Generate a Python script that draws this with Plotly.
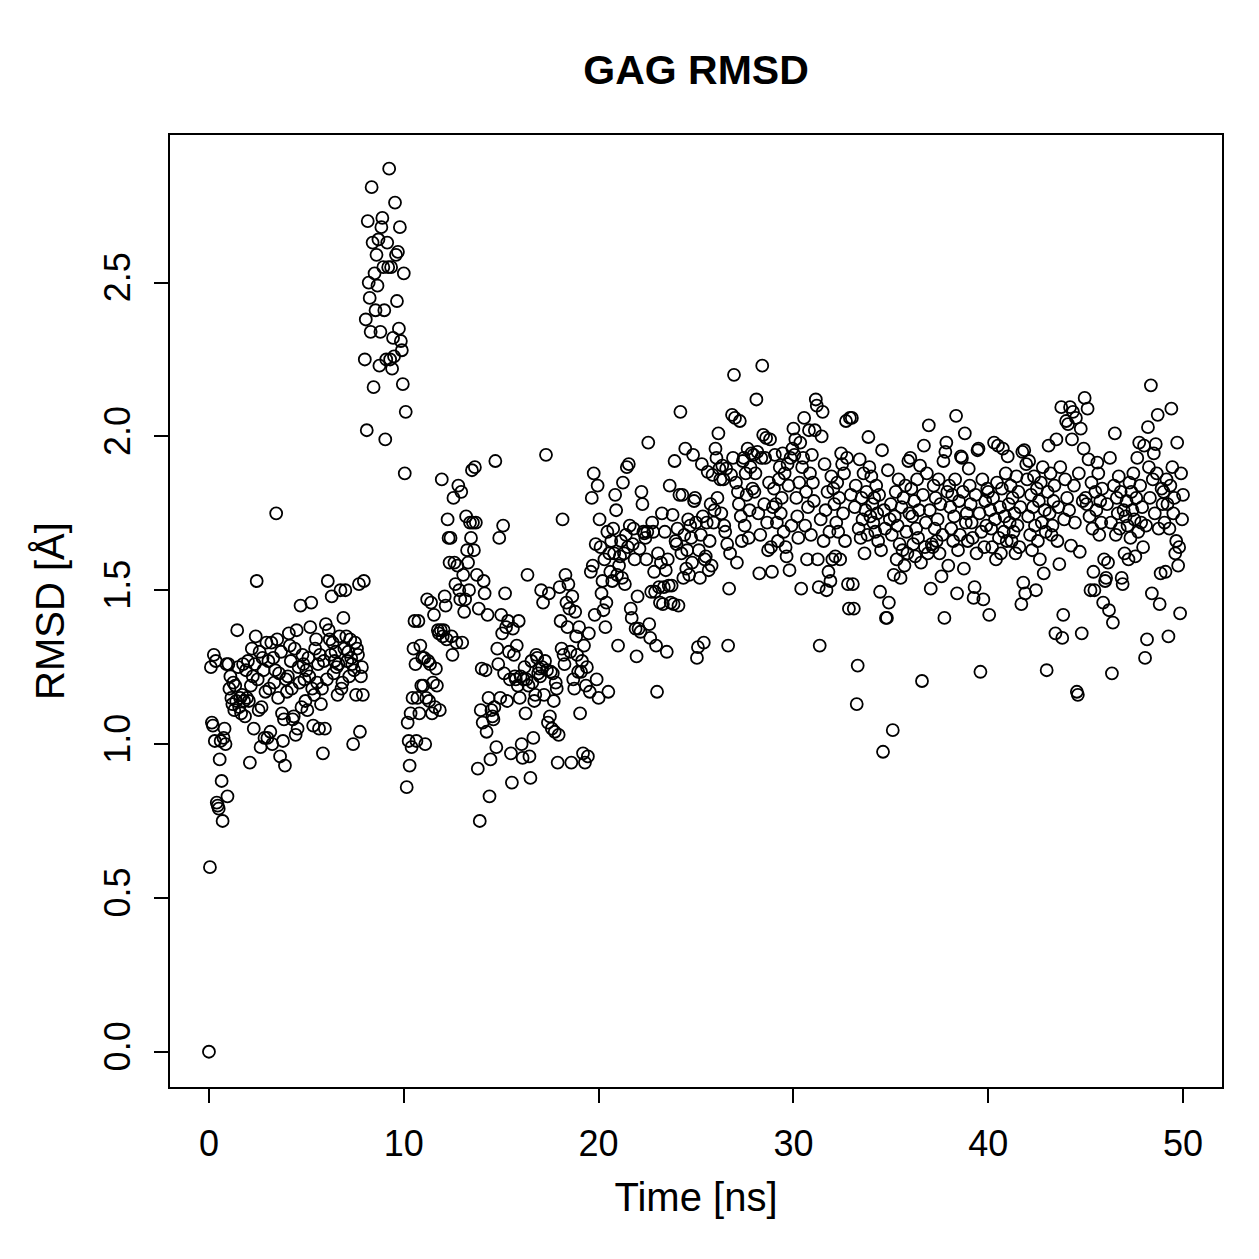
import plotly.graph_objects as go

# RMSD values (Å) read per 1-ns window, sampled every 0.05 ns
rmsd_00 = [0.00, 0.60, 1.25, 1.07, 1.06, 1.29, 1.01, 1.27, 0.81, 0.80, 0.79, 0.95, 1.01, 0.88, 0.75, 1.02, 1.05, 1.00, 1.26, 0.83]
rmsd_01 = [1.26, 1.18, 1.22, 1.15, 1.13, 1.20, 1.11, 1.19, 1.14, 1.37, 1.25, 1.12, 1.15, 1.10, 1.16, 1.26, 1.14, 1.09, 1.24, 1.15]
rmsd_02 = [1.27, 1.14, 0.94, 1.19, 1.31, 1.22, 1.05, 1.26, 1.35, 1.53, 1.21, 1.11, 1.30, 0.99, 1.12, 1.28, 1.24, 1.02, 1.17, 1.33]
rmsd_03 = [1.02, 1.27, 1.18, 1.04, 1.33, 1.00, 1.28, 1.20, 1.24, 1.75, 1.34, 1.15, 1.23, 0.96, 1.30, 1.10, 1.01, 1.08, 0.93, 1.21]
rmsd_04 = [1.17, 1.22, 1.36, 1.32, 1.27, 1.18, 1.08, 1.09, 1.31, 1.03, 1.37, 1.05, 1.25, 1.20, 1.45, 1.12, 1.29, 1.26, 1.21, 1.14]
rmsd_05 = [1.24, 1.11, 1.28, 1.22, 1.38, 1.46, 1.18, 1.06, 1.16, 1.31, 1.34, 1.20, 1.26, 1.05, 1.29, 1.13, 1.18, 0.97, 1.27, 1.05]
rmsd_06 = [1.39, 1.21, 1.53, 1.37, 1.34, 1.29, 1.48, 1.33, 1.23, 1.27, 1.30, 1.25, 1.16, 1.26, 1.35, 1.50, 1.18, 1.20, 1.41, 1.31]
rmsd_07 = [1.50, 1.35, 1.27, 1.30, 1.22, 1.34, 1.28, 1.26, 1.00, 1.24, 1.33, 1.16, 1.31, 1.29, 1.52, 1.04, 1.22, 1.25, 1.16, 1.53]
rmsd_08 = [2.25, 2.38, 2.02, 2.70, 2.50, 2.45, 2.34, 2.81, 2.63, 2.16, 2.53, 2.41, 2.59, 2.49, 2.64, 2.23, 2.34, 2.68, 2.71, 2.55]
rmsd_09 = [2.41, 1.99, 2.25, 2.63, 2.55, 2.87, 2.25, 2.55, 2.22, 2.32, 2.26, 2.76, 2.59, 2.44, 2.60, 2.35, 2.68, 2.31, 2.28, 2.17]
rmsd_10 = [2.53, 1.88, 2.08, 0.86, 1.07, 1.01, 0.93, 1.10, 0.99, 1.15, 1.31, 1.40, 1.26, 1.01, 1.15, 1.40, 1.10, 1.32, 1.19, 1.28]
rmsd_11 = [1.19, 1.28, 1.00, 1.15, 1.47, 1.27, 1.14, 1.26, 1.46, 1.10, 1.20, 1.42, 1.12, 1.245, 1.19, 1.37, 1.36, 1.11, 1.37, 1.86]
rmsd_12 = [1.35, 1.37, 1.48, 1.45, 1.34, 1.73, 1.67, 1.59, 1.67, 1.35, 1.29, 1.80, 1.59, 1.52, 1.33, 1.58, 1.84, 1.50, 1.47, 1.82]
rmsd_13 = [1.33, 1.55, 1.43, 1.47, 1.74, 1.63, 1.59, 1.50, 1.72, 1.67, 1.89, 1.72, 1.63, 1.90, 1.72, 1.55, 0.92, 1.44, 0.75, 1.11]
rmsd_14 = [1.245, 1.07, 1.53, 1.49, 1.24, 1.04, 1.42, 1.15, 0.83, 0.95, 1.11, 1.09, 1.08, 1.12, 1.92, 0.99, 1.31, 1.26, 1.67, 1.15]
rmsd_15 = [1.42, 1.36, 1.71, 1.23, 1.49, 1.38, 1.14, 1.40, 1.30, 1.21, 0.97, 0.875, 1.375, 1.29, 1.22, 1.21, 1.32, 1.19, 1.40, 1.15]
rmsd_16 = [1.22, 1.00, 0.955, 1.21, 1.25, 1.10, 1.21, 1.55, 1.19, 0.96, 0.89, 1.27, 1.20, 1.02, 1.14, 1.16, 1.29, 1.28, 1.23, 1.245]
rmsd_17 = [1.22, 1.50, 1.25, 1.46, 1.16, 1.27, 1.94, 1.24, 1.07, 1.49, 1.09, 1.235, 1.05, 1.23, 1.14, 1.04, 1.20, 1.18, 0.94, 1.03]
rmsd_18 = [1.51, 1.40, 1.31, 1.73, 1.29, 1.26, 1.55, 1.46, 1.38, 1.52, 1.44, 1.30, 0.94, 1.48, 1.21, 1.18, 1.43, 1.35, 1.29, 1.235]
rmsd_19 = [1.38, 1.10, 1.235, 1.27, 0.97, 1.32, 0.94, 1.19, 1.25, 0.96, 1.36, 1.17, 1.56, 1.80, 1.58, 1.88, 1.42, 1.65, 1.21, 1.84]
rmsd_20 = [1.15, 1.73, 1.64, 1.49, 1.53, 1.435, 1.60, 1.38, 1.46, 1.69, 1.17, 1.62, 1.56, 1.66, 1.53, 1.70, 1.62, 1.81, 1.76, 1.55]
rmsd_21 = [1.32, 1.58, 1.61, 1.66, 1.54, 1.85, 1.62, 1.52, 1.68, 1.90, 1.64, 1.91, 1.71, 1.44, 1.41, 1.65, 1.70, 1.60, 1.375, 1.285]
rmsd_22 = [1.48, 1.375, 1.635, 1.365, 1.82, 1.78, 1.69, 1.685, 1.67, 1.60, 1.69, 1.98, 1.39, 1.345, 1.495, 1.72, 1.69, 1.56, 1.495, 1.32]
rmsd_23 = [1.17, 1.62, 1.51, 1.46, 1.59, 1.75, 1.455, 1.51, 1.69, 1.565, 1.30, 1.60, 1.515, 1.84, 1.46, 1.515, 1.745, 1.455, 1.92, 1.66]
rmsd_24 = [1.65, 1.70, 1.45, 1.81, 2.08, 1.62, 1.81, 1.54, 1.68, 1.96, 1.57, 1.63, 1.73, 1.55, 1.71, 1.67, 1.59, 1.94, 1.79, 1.80]
rmsd_25 = [1.72, 1.28, 1.315, 1.63, 1.54, 1.68, 1.91, 1.74, 1.33, 1.60, 1.61, 1.72, 1.885, 1.565, 1.66, 1.78, 1.58, 1.875, 1.72, 1.76]
rmsd_26 = [1.96, 1.93, 1.80, 2.01, 1.895, 1.86, 1.75, 1.905, 1.86, 1.71, 1.69, 1.895, 1.65, 1.32, 1.505, 1.62, 1.875, 2.07, 1.93, 2.20]
rmsd_27 = [2.06, 1.85, 1.59, 1.82, 1.78, 2.05, 1.74, 1.66, 1.92, 1.93, 1.71, 1.88, 1.81, 1.96, 1.67, 1.76, 1.90, 1.945, 1.83, 1.94]
rmsd_28 = [1.82, 1.88, 2.12, 1.95, 1.75, 1.555, 1.68, 1.93, 2.23, 2.005, 1.78, 1.93, 1.995, 1.72, 1.63, 1.85, 1.99, 1.64, 1.56, 1.77]
rmsd_29 = [1.83, 1.94, 1.78, 1.72, 1.66, 1.86, 1.90, 1.75, 1.80, 1.945, 1.69, 1.88, 1.64, 1.61, 1.91, 1.84, 1.565, 1.93, 1.71, 1.96]
rmsd_30 = [2.025, 1.94, 1.99, 1.80, 1.74, 1.67, 1.85, 1.98, 1.505, 1.90, 1.93, 2.06, 1.71, 1.82, 1.60, 1.77, 2.02, 1.88, 1.68, 1.94]
rmsd_31 = [1.85, 1.79, 2.02, 2.12, 2.10, 1.60, 1.51, 1.32, 1.73, 2.00, 2.08, 1.66, 1.91, 1.76, 1.50, 1.82, 1.56, 1.69, 1.53, 1.87]
rmsd_32 = [1.60, 1.83, 1.78, 1.61, 1.72, 1.85, 1.69, 1.80, 1.60, 1.945, 1.91, 1.75, 1.88, 1.66, 2.05, 1.93, 1.52, 1.44, 2.06, 1.81]
rmsd_33 = [2.06, 1.52, 1.44, 1.77, 1.84, 1.13, 1.255, 1.70, 1.925, 1.67, 1.80, 1.73, 1.88, 1.62, 1.76, 1.82, 1.68, 1.998, 1.90, 1.74]
rmsd_34 = [1.87, 1.78, 1.72, 1.80, 1.69, 1.84, 1.75, 1.66, 1.81, 1.495, 1.63, 1.955, 0.975, 1.76, 1.70, 1.41, 1.41, 1.89, 1.46, 1.73]
rmsd_35 = [1.78, 1.68, 1.045, 1.55, 1.74, 1.82, 1.60, 1.71, 1.86, 1.65, 1.54, 1.77, 1.63, 1.80, 1.58, 1.84, 1.69, 1.62, 1.92, 1.75]
rmsd_36 = [1.93, 1.83, 1.74, 1.65, 1.79, 1.61, 1.70, 1.86, 1.67, 1.76, 1.905, 1.59, 1.205, 1.81, 1.97, 1.64, 1.72, 1.88, 1.62, 2.036]
rmsd_37 = [1.76, 1.505, 1.65, 1.64, 1.84, 1.70, 1.80, 1.66, 1.73, 1.86, 1.62, 1.78, 1.545, 1.68, 1.92, 1.41, 1.95, 1.98, 1.82, 1.58]
rmsd_38 = [1.84, 1.77, 1.70, 1.81, 1.66, 1.74, 1.86, 2.067, 1.49, 1.63, 1.79, 1.68, 1.935, 1.93, 1.82, 1.57, 2.01, 1.72, 1.75, 1.66]
rmsd_39 = [1.895, 1.84, 1.78, 1.72, 1.67, 1.475, 1.51, 1.81, 1.62, 1.955, 1.96, 1.75, 1.235, 1.69, 1.86, 1.47, 1.64, 1.79, 1.71, 1.83]
rmsd_40 = [1.82, 1.42, 1.76, 1.70, 1.64, 1.80, 1.98, 1.73, 1.60, 1.85, 1.97, 1.67, 1.77, 1.62, 1.83, 1.96, 1.69, 1.74, 1.88, 1.66]
rmsd_41 = [1.935, 1.78, 1.72, 1.84, 1.66, 1.80, 1.69, 1.75, 1.62, 1.87, 1.71, 1.82, 1.64, 1.77, 1.455, 1.95, 1.525, 1.955, 1.49, 1.91]
rmsd_42 = [1.86, 1.74, 1.92, 1.68, 1.81, 1.63, 1.77, 1.87, 1.71, 1.50, 1.83, 1.66, 1.79, 1.60, 1.85, 1.72, 1.90, 1.555, 1.76, 1.69]
rmsd_43 = [1.24, 1.82, 1.97, 1.75, 1.88, 1.68, 1.71, 1.79, 1.84, 1.36, 1.99, 1.66, 1.77, 1.585, 1.90, 2.095, 1.345, 1.42, 1.73, 1.86]
rmsd_44 = [2.05, 1.80, 2.04, 1.76, 2.095, 1.645, 1.99, 2.08, 1.84, 1.72, 2.06, 1.17, 1.16, 1.88, 1.625, 2.025, 1.36, 1.79, 1.96, 2.125]
rmsd_45 = [1.80, 1.78, 2.09, 1.925, 1.74, 1.50, 1.85, 1.70, 1.56, 1.50, 1.82, 1.76, 1.915, 1.88, 1.68, 1.79, 1.72, 1.83, 1.46, 1.60]
rmsd_46 = [1.53, 1.54, 1.78, 1.59, 1.435, 1.93, 1.72, 1.23, 1.395, 1.84, 2.01, 1.68, 1.80, 1.75, 1.87, 1.70, 1.82, 1.54, 1.52, 1.76]
rmsd_47 = [1.62, 1.74, 1.79, 1.71, 1.60, 1.85, 1.67, 1.82, 1.76, 1.88, 1.73, 1.61, 1.80, 1.93, 1.69, 1.98, 1.84, 1.72, 1.77, 1.64]
rmsd_48 = [1.97, 1.28, 1.71, 1.34, 2.03, 1.90, 1.80, 2.166, 1.49, 1.86, 1.945, 1.75, 1.975, 1.88, 2.07, 1.70, 1.455, 1.555, 1.83, 1.78]
rmsd_49 = [1.82, 1.72, 1.56, 1.86, 1.78, 1.35, 1.70, 1.84, 2.09, 1.90, 1.75, 1.80, 1.62, 1.66, 1.98, 1.58, 1.64, 1.425, 1.88, 1.73]
rmsd_50 = [1.81]

segments = [rmsd_00, rmsd_01, rmsd_02, rmsd_03, rmsd_04, rmsd_05, rmsd_06, rmsd_07, rmsd_08, rmsd_09,
            rmsd_10, rmsd_11, rmsd_12, rmsd_13, rmsd_14, rmsd_15, rmsd_16, rmsd_17, rmsd_18, rmsd_19,
            rmsd_20, rmsd_21, rmsd_22, rmsd_23, rmsd_24, rmsd_25, rmsd_26, rmsd_27, rmsd_28, rmsd_29,
            rmsd_30, rmsd_31, rmsd_32, rmsd_33, rmsd_34, rmsd_35, rmsd_36, rmsd_37, rmsd_38, rmsd_39,
            rmsd_40, rmsd_41, rmsd_42, rmsd_43, rmsd_44, rmsd_45, rmsd_46, rmsd_47, rmsd_48, rmsd_49,
            rmsd_50]

x_ticks = [0, 10, 20, 30, 40, 50]
y_ticks = [0.0, 0.5, 1.0, 1.5, 2.0, 2.5]
y_tick_text = ["0.0", "0.5", "1.0", "1.5", "2.0", "2.5"]

time_ns = []
rmsd = []
for start_ns, seg in enumerate(segments):
    for j, v in enumerate(seg):
        time_ns.append(round(start_ns + j / len(seg), 3))
        rmsd.append(v)

FONT = "Liberation Sans, Arial, Helvetica, sans-serif"

fig = go.Figure(go.Scatter(
    x=time_ns, y=rmsd, mode="markers",
    marker=dict(symbol="circle-open", size=12, color="black", line=dict(width=1.8, color="black")),
    hoverinfo="x+y",
))

fig.update_layout(
    width=1259, height=1259,
    margin=dict(l=170, r=37, t=135, b=172),
    paper_bgcolor="white", plot_bgcolor="white",
    showlegend=False,
    font=dict(family=FONT, color="black", size=36),
    title=dict(text="<b>GAG RMSD</b>", x=(170 + 1222) / 2 / 1259, xanchor="center",
               y=1 - 70 / 1259, yanchor="middle", font=dict(size=41, family=FONT, color="black")),
)

fig.update_xaxes(
    range=[-2, 52], tickvals=x_ticks, ticktext=[str(v) for v in x_ticks],
    showgrid=False, zeroline=False, showline=True, linecolor="black", linewidth=2, mirror=True,
    ticks="outside", ticklen=14, tickwidth=2, tickcolor="black",
    tickfont=dict(size=36), ticklabelstandoff=10,
    title=dict(text="Time [ns]", font=dict(size=40), standoff=20),
)
fig.update_yaxes(
    range=[-0.1146, 2.9796], tickvals=y_ticks, ticktext=y_tick_text,
    showgrid=False, zeroline=False, showline=True, linecolor="black", linewidth=2, mirror=True,
    ticks="outside", ticklen=14, tickwidth=2, tickcolor="black",
    tickfont=dict(size=36), tickangle=-90, ticklabelstandoff=10,
    title=dict(text="RMSD [Å]", font=dict(size=40), standoff=20),
)

fig.write_html("out.html")
